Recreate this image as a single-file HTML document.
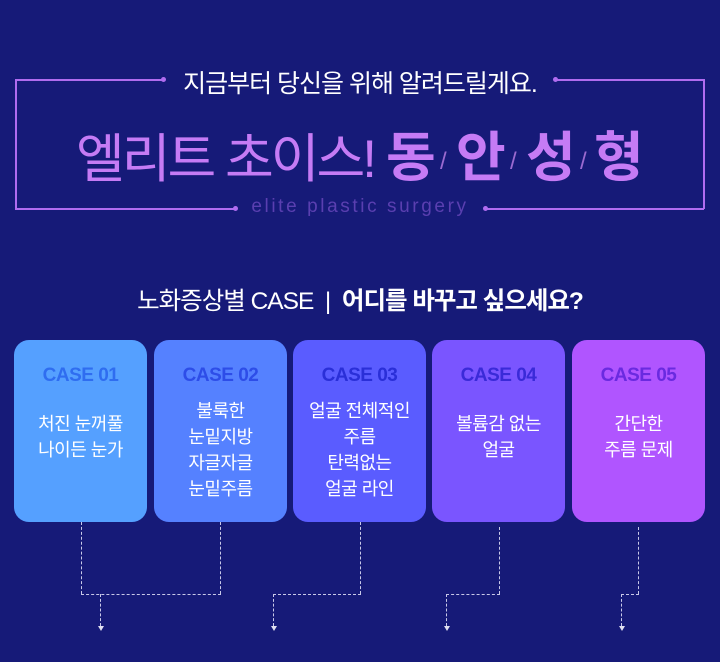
<!DOCTYPE html>
<html><head><meta charset="utf-8"><style>
*{margin:0;padding:0;box-sizing:border-box}
body{width:720px;height:662px;background:#161a78;position:relative;overflow:hidden;font-family:"Liberation Sans","Noto Sans CJK KR",sans-serif}
.a{position:absolute}
.ln{position:absolute;background:#b06cf0}
.dot{position:absolute;width:5px;height:5px;border-radius:50%;background:#b06cf0}
.box{position:absolute;top:340px;width:133px;height:182px;border-radius:15px;text-align:center}
.box .c{position:absolute;left:0;right:0;top:25px;font-size:19px;font-weight:bold;letter-spacing:-0.5px}
.box .t{position:absolute;left:0;right:0;color:#fff;font-size:18px;line-height:26px;letter-spacing:-0.5px}
.dv{position:absolute;border-left:1.3px dashed #c8c8e8;width:0}
.dh{position:absolute;border-top:1.3px dashed #c8c8e8;height:0}
.ar{position:absolute;width:0;height:0;border-left:3px solid transparent;border-right:3px solid transparent;border-top:5px solid #e0e0f0}
.big{position:absolute;top:126px;font-size:54px;font-weight:bold;color:#c57bf5;line-height:64px}
.sl{position:absolute;top:148px;font-size:24px;color:#9a6ad0}
</style></head><body>
<div class="ln" style="left:15px;top:79px;width:148px;height:1.5px"></div>
<div class="dot" style="left:161px;top:77px"></div>
<div class="dot" style="left:553px;top:77px"></div>
<div class="ln" style="left:555px;top:79px;width:149px;height:1.5px"></div>
<div class="ln" style="left:15px;top:79px;width:1.5px;height:130px"></div>
<div class="ln" style="left:703px;top:79px;width:1.5px;height:130px"></div>
<div class="ln" style="left:15px;top:208px;width:220px;height:1.5px"></div>
<div class="dot" style="left:233px;top:206px"></div>
<div class="dot" style="left:483px;top:206px"></div>
<div class="ln" style="left:485px;top:208px;width:219px;height:1.5px"></div>
<div class="a" style="left:160px;top:64px;width:400px;text-align:center;color:#fff;font-size:25px;letter-spacing:-1px">지금부터 당신을 위해 알려드릴게요.</div>
<div class="a" style="left:210px;top:196px;width:300px;text-align:center;color:#5a3fb0;font-size:19px;letter-spacing:2.6px">elite plastic surgery</div>
<div class="a" style="left:76px;top:128px;white-space:nowrap;color:#c57bf5;font-size:53px;letter-spacing:-3px;line-height:64px">엘리트 초이스!</div>
<div class="big" style="left:386px">동</div>
<div class="sl" style="left:440px">/</div>
<div class="big" style="left:456px">안</div>
<div class="sl" style="left:510px">/</div>
<div class="big" style="left:526px">성</div>
<div class="sl" style="left:580px">/</div>
<div class="big" style="left:594px">형</div>
<div class="a" style="left:0;width:720px;top:282px;text-align:center;color:#fff;font-size:24.5px;letter-spacing:-1px">노화증상별 CASE &nbsp;| &nbsp;<b>어디를 바꾸고 싶으세요?</b></div>

<div class="box" style="left:14px;background:#55a0ff"><div class="c" style="color:#2f6df0">CASE 01</div><div class="t" style="top:71px">처진 눈꺼풀<br>나이든 눈가</div></div>
<div class="box" style="left:154px;background:#5581ff"><div class="c" style="color:#2d4de8">CASE 02</div><div class="t" style="top:58px">불룩한<br>눈밑지방<br>자글자글<br>눈밑주름</div></div>
<div class="box" style="left:293px;background:#5a5cff"><div class="c" style="color:#2a2fd8">CASE 03</div><div class="t" style="top:58px">얼굴 전체적인<br>주름<br>탄력없는<br>얼굴 라인</div></div>
<div class="box" style="left:432px;background:#7a55ff"><div class="c" style="color:#3a2ad8">CASE 04</div><div class="t" style="top:71px">볼륨감 없는<br>얼굴</div></div>
<div class="box" style="left:572px;background:#b055ff"><div class="c" style="color:#6a2ae0">CASE 05</div><div class="t" style="top:71px">간단한<br>주름 문제</div></div>

<div class="dv" style="left:81px;top:522px;height:72px"></div>
<div class="dv" style="left:220px;top:522px;height:72px"></div>
<div class="dh" style="left:81px;top:594px;width:140px"></div>
<div class="dv" style="left:100px;top:594px;height:32px"></div>
<div class="ar" style="left:98px;top:626px"></div>

<div class="dv" style="left:360px;top:522px;height:72px"></div>
<div class="dh" style="left:273px;top:594px;width:88px"></div>
<div class="dv" style="left:273px;top:594px;height:32px"></div>
<div class="ar" style="left:271px;top:626px"></div>

<div class="dv" style="left:499px;top:527px;height:67px"></div>
<div class="dh" style="left:446px;top:594px;width:54px"></div>
<div class="dv" style="left:446px;top:594px;height:32px"></div>
<div class="ar" style="left:444px;top:626px"></div>

<div class="dv" style="left:638px;top:527px;height:67px"></div>
<div class="dh" style="left:621px;top:594px;width:18px"></div>
<div class="dv" style="left:621px;top:594px;height:32px"></div>
<div class="ar" style="left:619px;top:626px"></div>
</body></html>
